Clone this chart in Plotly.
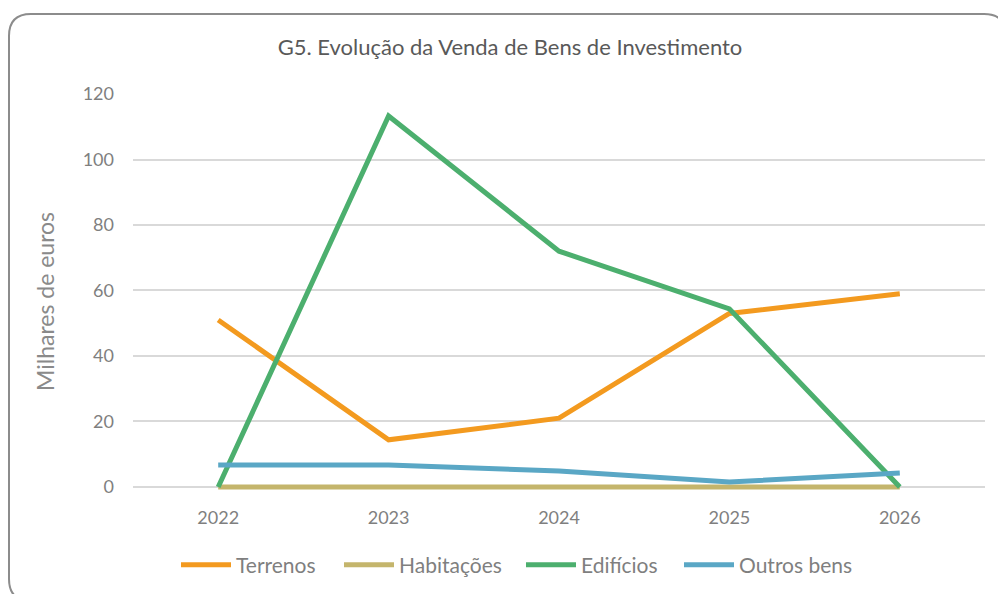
import plotly.graph_objects as go

years = ["2022", "2023", "2024", "2025", "2026"]
terrenos = [51, 14.4, 21, 53, 59]
habitacoes = [0, 0, 0, 0, 0]
edificios = [0, 113.3, 72, 54.4, 0]
outros_bens = [6.7, 6.7, 4.9, 1.5, 4.3]

series_names = ["Terrenos", "Habitações", "Edifícios", "Outros bens"]
series_values = [terrenos, habitacoes, edificios, outros_bens]
series_colors = ["#F39A1F", "#C4B56C", "#4CAF6E", "#5AA7C5"]

W, H = 998, 594
ML, MR, MT, MB = 133, 13, 94, 104
PW, PH = W - ML - MR, H - MT - MB
FONT = "Lato"
Y_MIN = -0.92  # small pad so the zero-valued line is not clipped

def px(x):
    return (x - ML) / PW

def py(y):
    return (H - MB - y) / PH

legend_ids = ["legend", "legend2", "legend3", "legend4"]
legend_left = [182, 345, 527, 685]

fig = go.Figure()
for name, vals, col, lid in zip(series_names, series_values, series_colors, legend_ids):
    fig.add_trace(go.Scatter(x=years, y=vals, name=name, mode="lines",
                             legend=lid, line=dict(color=col, width=5)))

# rounded chart border
x0, y0, x1, y1, r = 9, 14, 1006, 601, 22
path = (f"M {px(x0)},{py(y0 + r)} Q {px(x0)},{py(y0)} {px(x0 + r)},{py(y0)} "
        f"L {px(x1 - r)},{py(y0)} Q {px(x1)},{py(y0)} {px(x1)},{py(y0 + r)} "
        f"L {px(x1)},{py(y1 - r)} Q {px(x1)},{py(y1)} {px(x1 - r)},{py(y1)} "
        f"L {px(x0 + r)},{py(y1)} Q {px(x0)},{py(y1)} {px(x0)},{py(y1 - r)} Z")
fig.add_shape(type="path", path=path, xref="paper", yref="paper",
              line=dict(color="#8C8C8C", width=2), layer="below")

fig.add_annotation(text="Milhares de euros", xref="paper", yref="paper",
                   x=px(45), y=py(302), xanchor="center", yanchor="middle",
                   textangle=-90, showarrow=False,
                   font=dict(family=FONT, size=23, color="#8A8A8A"))

legends = {}
for lid, left in zip(legend_ids, legend_left):
    legends[lid] = dict(orientation="h", xref="container", x=(left - 6) / W,
                        xanchor="left", yref="container", y=1 - 565 / H,
                        yanchor="middle", itemwidth=50, bgcolor="rgba(0,0,0,0)",
                        font=dict(family=FONT, size=21, color="#7F7F7F"))

fig.update_layout(
    width=W, height=H,
    margin=dict(l=ML, r=MR, t=MT, b=MB),
    paper_bgcolor="white", plot_bgcolor="white",
    title=dict(text="G5. Evolução da Venda de Bens de Investimento",
               xref="container", x=510 / W, xanchor="center",
               yref="container", y=1 - 47 / H, yanchor="middle",
               font=dict(family=FONT, size=22, color="#595959")),
    font=dict(family=FONT, size=18, color="#7F7F7F"),
    xaxis=dict(type="category", range=[-0.5, 4.5], showgrid=False,
               showline=False, ticks="", ticklabelstandoff=15,
               tickfont=dict(family=FONT, size=18, color="#7F7F7F")),
    yaxis=dict(range=[Y_MIN, 120], tickvals=[0, 20, 40, 60, 80, 100, 120],
               showgrid=True, gridcolor="#D9D9D9",
               gridwidth=1.5, zeroline=False, showline=False,
               ticklabelstandoff=18,
               tickfont=dict(family=FONT, size=18, color="#7F7F7F")),
    showlegend=True,
    **legends,
)

fig.write_html("out.html", config={"displayModeBar": False},
               post_script="document.body.style.margin='0';document.body.style.padding='0';")
